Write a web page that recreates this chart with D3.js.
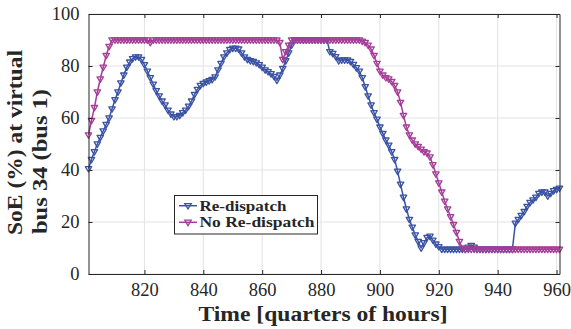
<!DOCTYPE html>
<html>
<head>
<meta charset="utf-8">
<script src="https://cdn.jsdelivr.net/npm/d3@7"></script>
<style>
  html, body { margin: 0; padding: 0; background: #fff; }
  svg { display: block; }
</style>
</head>
<body>
<svg id="chart" width="571" height="329"></svg>
<script>
// ---------------- data ----------------
const timeStart = 801;
const timeEnd = 961;
const xTicks = [820, 840, 860, 880, 900, 920, 940, 960];
const yTicks = [0, 20, 40, 60, 80, 100];
const seriesNames = ["Re-dispatch", "No Re-dispatch"];

// SoE (%) for t = 801 ... 961, one value per quarter hour
const reDispatch = [
  40.5, 44, 47, 50, 52.5, 55, 57.5, 60, 63.5, 67,
  70, 73.5, 76.5, 79.5, 81.5, 82.8, 83.5, 83.5, 82.5, 80.5,
  78, 75.5, 73, 70.5, 68.5, 66.5, 65, 63, 61.5, 60.5,
  60.5, 61, 62, 63, 64.5, 66.5, 69, 71, 72.5, 73.3,
  73.8, 74.3, 74.8, 75.8, 78.5, 81, 83.5, 85, 86.3, 86.8,
  86.8, 86.5, 85, 83.5, 82.5, 82, 81.7, 81.2, 80.5, 79.5,
  78.5, 77.8, 77, 76, 74.5, 76.5, 79, 82, 85, 88,
  90, 90, 90, 90, 90, 90, 90, 90, 90, 90,
  90, 90, 85.5, 84.8, 83.6, 82, 82.3, 82.3, 82.3, 81.7,
  80.6, 79.3, 78, 75.5, 72, 68.5, 65, 62, 59.5, 56.5,
  54, 51.5, 49.5, 47, 44, 39.5, 34.5, 29.5, 25, 21,
  18, 15, 12.5, 10, 12, 14, 14.5, 13, 11.5, 10.5,
  9.5, 9.5, 9.5, 9.5, 9.5, 9.5, 9.5, 9.5, 9.5, 10.3,
  11, 10.3, 9.5, 9.5, 9.5, 9.5, 9.5, 9.5, 9.5, 9.5,
  9.5, 9.5, 9.5, 9.5, 9.5, 19.5, 21, 22.5, 24, 26,
  27.5, 28.5, 29.5, 31, 31.5, 31.5, 30, 31, 32, 32.5,
  33
];
const noReDispatch = [
  53.5, 59, 64, 70, 75, 79.5, 84, 87.5, 90, 90,
  90, 90, 90, 90, 90, 90, 90, 90, 90, 90,
  90, 89, 90, 90, 90, 90, 90, 90, 90, 90,
  90, 90, 90, 90, 90, 90, 90, 90, 90, 90,
  90, 90, 90, 90, 90, 90, 90, 90, 90, 90,
  90, 90, 90, 90, 90, 90, 90, 90, 90, 90,
  90, 90, 90, 90, 90, 89, 82.5, 85.5, 88, 90,
  90, 90, 90, 90, 90, 90, 90, 90, 90, 90,
  90, 90, 90, 90, 90, 90, 90, 90, 90, 90,
  90, 90, 90, 89.5, 89, 88, 86.5, 84, 81, 78,
  76.5, 75.5, 75, 74, 72.5, 70, 66, 61, 56.5, 53.5,
  51.5, 50, 49, 48, 47, 46.5, 45, 42, 38.5, 35,
  31.5, 28, 25, 22, 19, 16, 12.5, 10, 9.5, 9.5,
  9.5, 9.5, 9.5, 9.5, 9.5, 9.5, 9.5, 9.5, 9.5, 9.5,
  9.5, 9.5, 9.5, 9.5, 9.5, 9.5, 9.5, 9.5, 9.5, 9.5,
  9.5, 9.5, 9.5, 9.5, 9.5, 9.5, 9.5, 9.5, 9.5, 9.5,
  9.5
];

// ---------------- layout ----------------
const svg = d3.select("#chart");
const plot = { left: 88.5, right: 559.5, top: 14, bottom: 274 };
const colors = ["#3a52a4", "#a43d97"];
const axisColor = "#262626";
const gridColor = "#e2e2e2";
const serif = "'Liberation Serif', 'Times New Roman', serif";

const x = d3.scaleLinear().domain([timeStart, timeEnd]).range([plot.left, plot.right]);
const y = d3.scaleLinear().domain([0, 100]).range([plot.bottom, plot.top]);

// grid
const grid = svg.append("g");
grid.selectAll("line.gx").data(xTicks).join("line")
  .attr("x1", d => x(d)).attr("x2", d => x(d))
  .attr("y1", plot.top).attr("y2", plot.bottom)
  .attr("stroke", gridColor).attr("stroke-width", 1);
grid.selectAll("line.gy").data(yTicks).join("line")
  .attr("x1", plot.left).attr("x2", plot.right)
  .attr("y1", d => y(d)).attr("y2", d => y(d))
  .attr("stroke", gridColor).attr("stroke-width", 1);

// series
const times = d3.range(timeStart, timeEnd + 1);
const allSeries = [reDispatch, noReDispatch];
const line = d3.line().x((d, i) => x(times[i])).y(d => y(d));
const tri = "M-3.2,-2.1 L3.2,-2.1 L0,3.3 Z";

allSeries.forEach((vals, si) => {
  const g = svg.append("g");
  g.append("path").attr("d", line(vals))
    .attr("fill", "none").attr("stroke", colors[si])
    .attr("stroke-width", 1.5).attr("stroke-linejoin", "round");
  g.selectAll("path.m").data(vals).join("path")
    .attr("class", "m")
    .attr("transform", (d, i) => `translate(${x(times[i])},${y(d)})`)
    .attr("d", tri)
    .attr("fill", "none").attr("stroke", colors[si]).attr("stroke-width", 1.3)
    .attr("stroke-linejoin", "round");
});

// axes (box with inward ticks)
const xAxisB = d3.axisBottom(x).tickValues(xTicks).tickSizeInner(-4).tickSizeOuter(0).tickPadding(9).tickFormat(d3.format("d"));
const xAxisT = d3.axisTop(x).tickValues(xTicks).tickSizeInner(-4).tickSizeOuter(0).tickFormat("");
const yAxisL = d3.axisLeft(y).tickValues(yTicks).tickSizeInner(-4).tickSizeOuter(0).tickPadding(9).tickFormat(d3.format("d"));
const yAxisR = d3.axisRight(y).tickValues(yTicks).tickSizeInner(-4).tickSizeOuter(0).tickFormat("");

function styleAxis(g) {
  g.select(".domain").attr("stroke", axisColor).attr("stroke-width", 1);
  g.selectAll(".tick line").attr("stroke", axisColor).attr("stroke-width", 1);
  g.selectAll(".tick text").attr("fill", "#262626").attr("font-family", serif).attr("font-size", 18.5);
}
svg.append("g").attr("transform", `translate(0,${plot.bottom})`).call(xAxisB).call(styleAxis)
  .selectAll(".tick text").attr("dy", "0.71em");
svg.append("g").attr("transform", `translate(0,${plot.top})`).call(xAxisT).call(styleAxis);
svg.append("g").attr("transform", `translate(${plot.left},0)`).call(yAxisL).call(styleAxis);
svg.append("g").attr("transform", `translate(${plot.right},0)`).call(yAxisR).call(styleAxis);

function boldText(parent, size, len) {
  return parent.append("text")
    .attr("font-family", serif).attr("font-weight", "bold")
    .attr("font-size", size).attr("fill", "#262626")
    .attr("textLength", len).attr("lengthAdjust", "spacingAndGlyphs");
}

// x label
boldText(svg, 20, 249)
  .attr("x", 198.5).attr("y", 321)
  .text("Time [quarters of hours]");

// y label (two lines, start anchored at the bottom)
boldText(svg, 20, 185)
  .attr("transform", "translate(22,235) rotate(-90)")
  .text("SoE (%) at virtual");
boldText(svg, 20, 145)
  .attr("transform", "translate(47,234) rotate(-90)")
  .text("bus 34 (bus 1)");

// legend
const lg = svg.append("g");
lg.append("rect").attr("x", 174.5).attr("y", 195.5).attr("width", 143).attr("height", 38.5)
  .attr("fill", "#fff").attr("stroke", axisColor).attr("stroke-width", 1);
const rowY = [205.7, 222.3];
const textW = [87, 115];
seriesNames.forEach((name, i) => {
  lg.append("line").attr("x1", 179).attr("x2", 197).attr("y1", rowY[i]).attr("y2", rowY[i])
    .attr("stroke", colors[i]).attr("stroke-width", 1.5);
  lg.append("path").attr("transform", `translate(188,${rowY[i]})`).attr("d", tri)
    .attr("fill", "none").attr("stroke", colors[i]).attr("stroke-width", 1.3);
  boldText(lg, 15, textW[i])
    .attr("x", 199.5).attr("y", rowY[i] + 5)
    .text(name);
});
</script>
</body>
</html>
